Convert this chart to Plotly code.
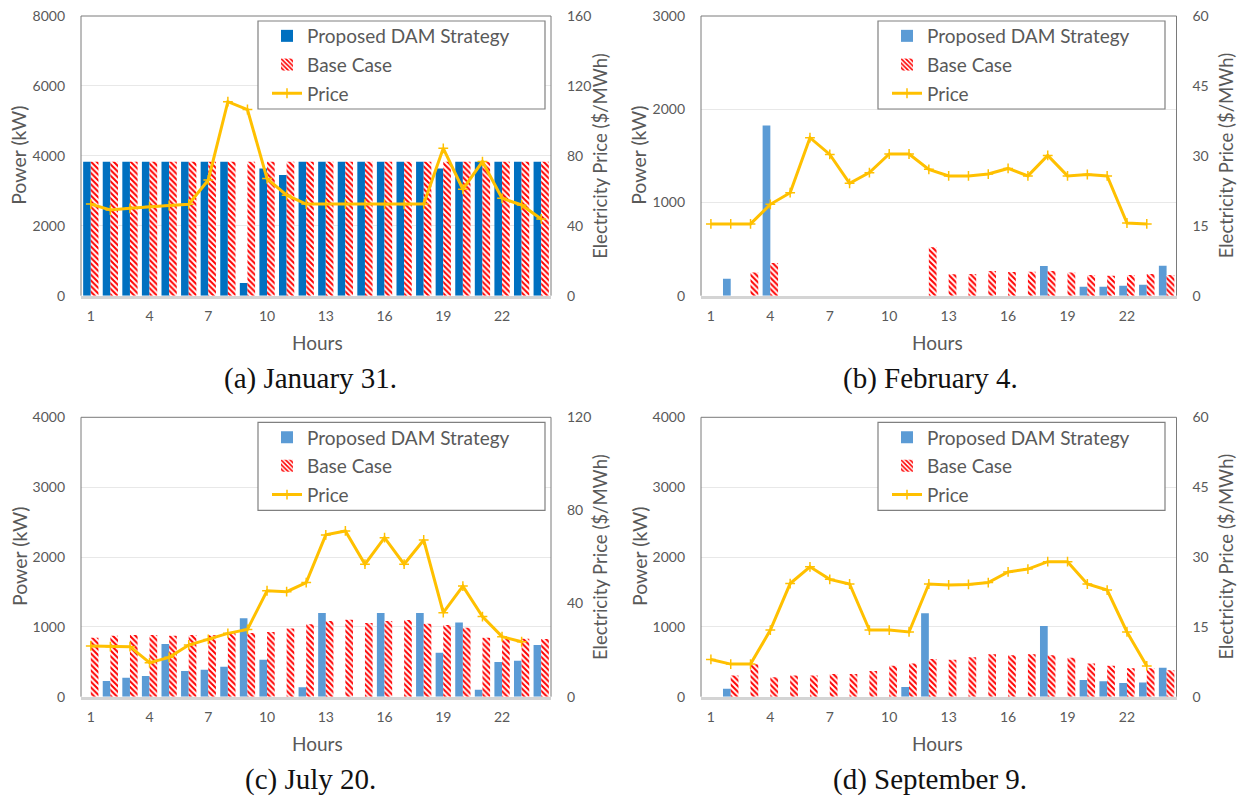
import plotly.graph_objects as go

hours = list(range(1, 25))
x_ticks = [1, 4, 7, 10, 13, 16, 19, 22]

# (a) January 31
a_prop = [3830, 3830, 3830, 3830, 3830, 3830, 3830, 3830, 362, 3640, 3450, 3830,
          3830, 3830, 3830, 3830, 3830, 3830, 3640, 3830, 3830, 3830, 3830, 3830]
a_base = [3830, 3830, 3830, 3830, 3830, 3830, 3830, 3830, 3830, 3830, 3830, 3830,
          3830, 3830, 3830, 3830, 3830, 3830, 3830, 3830, 3830, 3830, 3830, 3830]
a_price = [52.4, 49.0, 50.0, 51.0, 51.6, 52.3, 66.2, 111.0, 106.5, 67.0, 57.5, 52.4,
           52.4, 52.4, 52.4, 52.2, 52.2, 52.4, 84.3, 60.9, 76.7, 55.7, 51.9, 43.9]

# (b) February 4
b_prop = [0, 182, 0, 1825, 0, 0, 0, 0, 0, 0, 0, 0,
          0, 0, 0, 0, 0, 318, 0, 96, 96, 107, 118, 321]
b_base = [0, 0, 250, 350, 0, 0, 0, 0, 0, 0, 0, 521,
          229, 232, 264, 254, 257, 264, 250, 221, 214, 221, 232, 221]
b_price = [15.4, 15.4, 15.4, 19.6, 22.1, 33.9, 30.3, 24.1, 26.4, 30.4, 30.4, 27.1,
           25.7, 25.7, 26.1, 27.3, 25.7, 30.1, 25.7, 26.0, 25.7, 15.6, 15.4, None]

# (c) July 20
c_prop = [0, 224, 272, 296, 754, 368, 387, 430, 1122, 530, 0, 134,
          1198, 0, 0, 1198, 0, 1198, 630, 1064, 100, 496, 515, 740]
c_base = [845, 873, 883, 883, 873, 883, 878, 907, 912, 926, 978, 1036,
          1084, 1103, 1055, 1084, 1098, 1045, 1026, 988, 845, 826, 830, 826]
c_price = [21.8, 21.5, 21.5, 14.6, 16.9, 22.2, 24.6, 27.2, 28.9, 45.5, 45.1, 49.0,
           69.5, 71.2, 56.9, 68.3, 56.9, 67.3, 36.1, 47.5, 34.4, 25.8, 23.6, None]

# (d) September 9
d_prop = [0, 115, 0, 0, 0, 0, 0, 0, 0, 0, 138, 1193,
          0, 0, 0, 0, 0, 1012, 0, 239, 220, 196, 205, 415]
d_base = [0, 305, 463, 277, 305, 305, 325, 325, 368, 444, 477, 539,
          530, 563, 606, 592, 606, 592, 558, 477, 444, 406, 406, 377]
d_price = [8.0, 7.0, 7.0, 14.3, 24.3, 27.9, 25.2, 24.2, 14.3, 14.3, 13.9, 24.2,
           24.0, 24.1, 24.5, 26.8, 27.4, 29.0, 29.0, 24.2, 22.9, 13.9, 6.6, None]

captions = ["(a) January 31.", "(b) February 4.", "(c) July 20.", "(d) September 9."]
series_names = ["Proposed DAM Strategy", "Base Case", "Price"]
power_title = "Power (kW)"
price_title = "Electricity Price ($/MWh)"
hours_title = "Hours"

W, H = 1238, 803
SANS = "Lato, 'Open Sans', sans-serif"
SERIF = "'Liberation Serif', 'DejaVu Serif', serif"
GRAY = "#595959"

panels = [
    dict(prop=a_prop, base=a_base, price=a_price, pcolor="#0070C0",
         yr=8000, yd=2000, pr=160, pd=40,
         px=(81, 551), py=(16, 295.7)),
    dict(prop=b_prop, base=b_base, price=b_price, pcolor="#5B9BD5",
         yr=3000, yd=1000, pr=60, pd=15,
         px=(701, 1176.5), py=(16, 295.7)),
    dict(prop=c_prop, base=c_base, price=c_price, pcolor="#5B9BD5",
         yr=4000, yd=1000, pr=120, pd=40,
         px=(81, 551), py=(417.3, 696.7)),
    dict(prop=d_prop, base=d_base, price=d_price, pcolor="#5B9BD5",
         yr=4000, yd=1000, pr=60, pd=15,
         px=(701, 1176.5), py=(417.3, 696.7)),
]

fig = go.Figure()
layout = dict(
    width=W, height=H, margin=dict(l=0, r=0, t=0, b=0, autoexpand=False),
    paper_bgcolor="white", plot_bgcolor="white",
    barmode="group", bargap=0.22, bargroupgap=0,
    showlegend=True, shapes=[], annotations=[],
    font=dict(family=SANS, color=GRAY),
)

def px2x(v):
    return v / W

def px2y(v):
    return 1 - v / H

for i, p in enumerate(panels):
    k = i + 1
    xa = "x" if k == 1 else f"x{k}"
    yp_n = 2 * k - 1
    ys_n = 2 * k
    yp = "y" if yp_n == 1 else f"y{yp_n}"
    ys = f"y{ys_n}"
    leg = "legend" if k == 1 else f"legend{k}"
    g = f"p{k}"

    fig.add_trace(go.Bar(
        x=hours, y=p["prop"], name=series_names[0], xaxis=xa, yaxis=yp,
        marker=dict(color=p["pcolor"], line=dict(width=0)),
        legend=leg, legendgroup=g + "a", offsetgroup=g + "a",
    ))
    fig.add_trace(go.Bar(
        x=hours, y=p["base"], name=series_names[1], xaxis=xa, yaxis=yp,
        marker=dict(color="#FF0000", line=dict(width=0),
                    pattern=dict(shape="\\", fgcolor="#FF0000", bgcolor="white",
                                 size=4, solidity=0.5, fillmode="replace")),
        legend=leg, legendgroup=g + "b", offsetgroup=g + "b",
    ))
    fig.add_trace(go.Scatter(
        x=hours, y=p["price"], name=series_names[2], xaxis=xa, yaxis=ys,
        mode="lines+markers", connectgaps=False,
        line=dict(color="#FFC000", width=3),
        marker=dict(symbol="cross-thin", size=7, color="#FFC000",
                    line=dict(color="#FFC000", width=1.5)),
        legend=leg, legendgroup=g + "c",
    ))

    xd = [px2x(p["px"][0]), px2x(p["px"][1])]
    yd = [px2y(p["py"][1]), px2y(p["py"][0])]
    tickfont = dict(family=SANS, size=14, color=GRAY)

    layout["xaxis" if k == 1 else f"xaxis{k}"] = dict(
        domain=xd, anchor=yp, range=[0.5, 24.5], tickmode="array",
        tickvals=x_ticks, ticktext=[str(t) for t in x_ticks],
        showgrid=False, zeroline=False, showline=True,
        linecolor="#D4D4D4", linewidth=2.5, ticks="",
        tickfont=tickfont, ticklabelstandoff=6, fixedrange=True,
        automargin=False,
    )
    layout["yaxis" if yp_n == 1 else f"yaxis{yp_n}"] = dict(
        domain=yd, anchor=xa, range=[0, p["yr"]], tick0=0, dtick=p["yd"],
        showgrid=True, gridcolor="#E8E8E8", gridwidth=1, zeroline=False,
        showline=False, ticks="", tickfont=tickfont, ticklabelstandoff=15,
        automargin=False,
    )
    layout[f"yaxis{ys_n}"] = dict(
        overlaying=yp, side="right", anchor=xa, range=[0, p["pr"]],
        tick0=0, dtick=p["pd"], showgrid=False, zeroline=False,
        showline=False, ticks="", tickfont=tickfont, ticklabelstandoff=15,
        automargin=False,
    )

    # frame lines (left, top, right)
    fc = "#7A7A7A"
    for (x0, y0, x1, y1) in [(0, 0, 0, 1), (0, 1, 1, 1), (1, 0, 1, 1)]:
        layout["shapes"].append(dict(
            type="line", xref=f"{xa} domain", yref=f"{yp} domain",
            x0=x0, y0=y0, x1=x1, y1=y1, line=dict(color=fc, width=1),
            layer="above"))

    # legend box
    lx0 = p["px"][0] + 177
    lx1 = p["px"][0] + 464
    ly0 = p["py"][0] + 5
    ly1 = p["py"][0] + 93
    layout["shapes"].append(dict(
        type="rect", xref="paper", yref="paper",
        x0=px2x(lx0), x1=px2x(lx1), y0=px2y(ly1), y1=px2y(ly0),
        line=dict(color="#808080", width=1.2), fillcolor="white", layer="above"))
    layout[leg] = dict(
        x=px2x(lx0 + 9), y=px2y(ly0 - 4), xanchor="left", yanchor="top",
        bgcolor="rgba(0,0,0,0)", borderwidth=0,
        font=dict(family=SANS, size=19, color=GRAY),
        traceorder="grouped", tracegroupgap=1, itemwidth=30,
    )

    # axis titles
    yc = (p["py"][0] + p["py"][1]) / 2
    layout["annotations"].append(dict(
        text=hours_title, xref="paper", yref="paper",
        x=px2x(p["px"][0] + 236), y=px2y(p["py"][1] + 47),
        showarrow=False, font=dict(family=SANS, size=19, color=GRAY),
        xanchor="center", yanchor="middle"))
    layout["annotations"].append(dict(
        text=power_title, xref="paper", yref="paper",
        x=px2x(p["px"][0] - 62), y=px2y(yc), textangle=-90,
        showarrow=False, font=dict(family=SANS, size=19.5, color=GRAY),
        xanchor="center", yanchor="middle"))
    layout["annotations"].append(dict(
        text=price_title, xref="paper", yref="paper",
        x=px2x(p["px"][1] + 49), y=px2y(yc), textangle=-90,
        showarrow=False, font=dict(family=SANS, size=18.5, color=GRAY),
        xanchor="center", yanchor="middle"))
    # caption
    layout["annotations"].append(dict(
        text=captions[i], xref="paper", yref="paper",
        x=px2x(p["px"][0] + 229), y=px2y(p["py"][1] + 83),
        showarrow=False, font=dict(family=SERIF, size=29, color="#111111"),
        xanchor="center", yanchor="middle"))

fig.update_layout(**layout)
fig.write_html(
    "out.html",
    config={"displayModeBar": False},
    post_script="document.documentElement.style.margin='0px';"
                "document.body.style.margin='0px';document.body.style.padding='0px';"
                "document.body.style.overflow='hidden';",
)
